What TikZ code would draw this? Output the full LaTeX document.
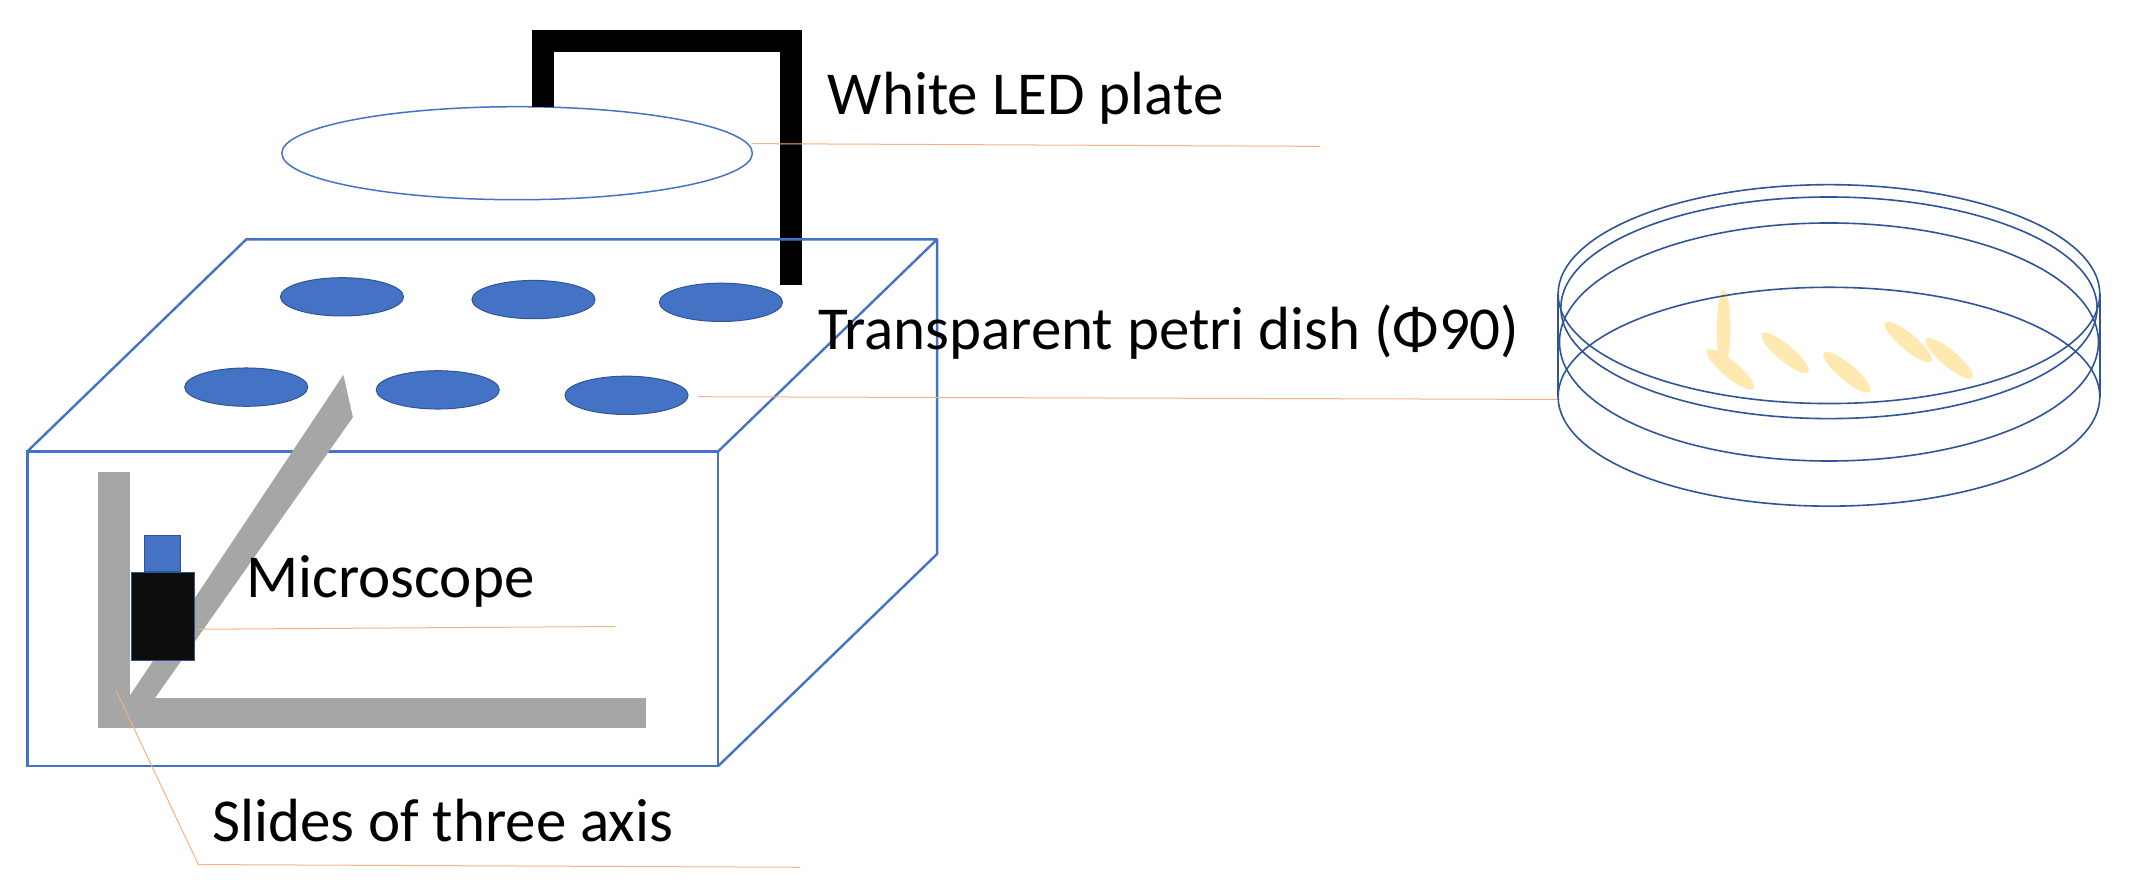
\documentclass[tikz,border=0pt]{standalone}
\usepackage{fontspec}
\setmainfont{Carlito}
\definecolor{bl}{HTML}{4472C4}
\definecolor{dbl}{HTML}{2F5597}
\definecolor{org}{HTML}{F4B183}
\definecolor{gr}{HTML}{A6A6A6}
\definecolor{yl}{HTML}{FFE9B0}
\begin{document}
\begin{tikzpicture}[x=1.368pt,y=-1.368pt,
  edge/.style={bl,line width=2.4pt},
  hole/.style={fill=bl,draw=dbl,line width=1pt},
  lead/.style={org,line width=1pt},
  lbl/.style={anchor=west,inner sep=0,font=\fontsize{61}{66}\selectfont},
  dish/.style={dbl,line width=1.6pt},
  slide/.style={fill=gr}]
\useasboundingbox (0,0) rectangle (1560,648);
% LED plate
\draw[bl,line width=1.5pt] (378,112) ellipse[x radius=172,y radius=34];
\draw[line width=22pt,line cap=butt,line join=miter] (397,78) -- (397,30) -- (578,30) -- (578,208);
% box
\draw[edge] (20,330) rectangle (525,560);
\draw[edge,line join=round] (20,330) -- (180,175) -- (685,175) -- (525,330);
\draw[edge] (685,175) -- (685,405) -- (525,560);
% holes
\foreach \p in {(250,217),(390,219),(527,221),(180,283),(320,285),(458,289)}
  \path[hole] \p ellipse[x radius=45,y radius=14];
% slides
\path[slide] (72,345) rectangle (95,532);
\path[slide] (72,510) rectangle (472,532);
\path[slide] (84,525) -- (251,274) -- (258,305) -- (98,532) -- cycle;
% microscope
\node[draw=dbl,fill=bl,minimum width=36,minimum height=36,inner sep=0,anchor=south west,line width=1pt] (cam) at (105,418) {};
\node[draw=dbl,fill=black!95,minimum width=63,minimum height=88,inner sep=0,anchor=north west,line width=1pt] (mic) at (96,418) {};
% labels
\node[lbl] (led) at (605,72) {White LED plate};
\draw[lead] (550,105) -- (965,107);
\node[lbl] (pd) at (598,243) {Transparent petri dish (Φ90)};
\draw[lead] (510,290) -- (1140,292);
\node[lbl] (ms) at (180,425) {Microscope};
\draw[lead] (145,460) -- (450,458);
\node[lbl] (sl) at (155,600) {Slides of three axis};
\draw[lead] (85,505) -- (145,632) -- (585,634);
% petri dish
\foreach \a/\b in {1265/270,1305/258,1350/272,1395/250,1425/262}
  \fill[yl,rotate around={-40:(\a,\b)}] (\a,\b) ellipse[x radius=22,y radius=6];
\fill[yl] (1260,240) ellipse[x radius=5,y radius=28];
\draw[dish] (1337,215) ellipse[x radius=198,y radius=80];
\draw[dish] (1337,225) ellipse[x radius=196,y radius=81];
\draw[dish] (1337,250) ellipse[x radius=197,y radius=87];
\draw[dish] (1337,290) ellipse[x radius=198,y radius=80];
\draw[dish] (1139,215) -- (1139,290);
\draw[dish] (1535,215) -- (1535,290);
\end{tikzpicture}
\end{document}
